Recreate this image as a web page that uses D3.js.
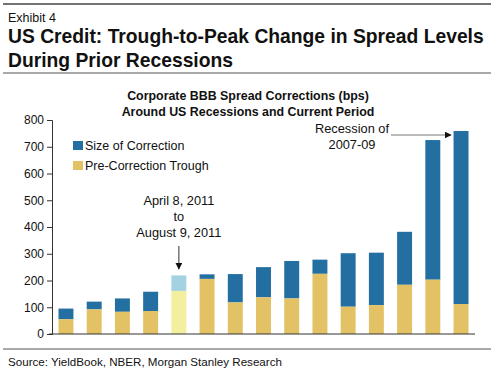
<!DOCTYPE html>
<html>
<head>
<meta charset="utf-8">
<script src="https://cdn.jsdelivr.net/npm/d3@7"></script>
<style>
  body { margin: 0; background: #fff; }
  svg { font-family: "Liberation Sans", Arial, sans-serif; }
</style>
</head>
<body>
<svg id="chart" width="496" height="373"></svg>
<script>
// bar order as in the exhibit, left to right
var periods = ["r1", "r2", "r3", "r4", "2011", "r6", "r7", "r8", "r9", "r10", "r11", "r12", "r13", "r14", "r15"];
var troughValues = [55, 92, 83, 86, 161, 206, 118, 137, 133, 225, 102, 108, 184, 203, 112];
var peakValues = [95, 121, 133, 158, 219, 223, 224, 250, 273, 278, 302, 304, 382, 725, 759];
var yTicks = [0, 100, 200, 300, 400, 500, 600, 700, 800];
var highlight = "2011";

var svg = d3.select("#chart");

// rules
svg.append("line").attr("x1", 3).attr("x2", 491).attr("y1", 4).attr("y2", 4)
   .attr("stroke", "#444").attr("stroke-width", 1.5);
svg.append("line").attr("x1", 3).attr("x2", 491).attr("y1", 73).attr("y2", 73)
   .attr("stroke", "#555").attr("stroke-width", 1.2);
svg.append("line").attr("x1", 3).attr("x2", 491).attr("y1", 349).attr("y2", 349)
   .attr("stroke", "#555").attr("stroke-width", 1);

// headings
svg.append("text").attr("x", 8).attr("y", 21.5).attr("font-size", 12.5).attr("fill", "#111").text("Exhibit 4");
svg.append("text").attr("x", 8).attr("y", 42.5).attr("font-size", 19.3).attr("font-weight", "bold")
   .attr("fill", "#111").text("US Credit: Trough-to-Peak Change in Spread Levels");
svg.append("text").attr("x", 8).attr("y", 66.5).attr("font-size", 19.3).attr("font-weight", "bold")
   .attr("fill", "#111").text("During Prior Recessions");

svg.append("text").attr("x", 248).attr("y", 100).attr("text-anchor", "middle").attr("font-size", 12.4)
   .attr("font-weight", "bold").attr("fill", "#111").text("Corporate BBB Spread Corrections (bps)");
svg.append("text").attr("x", 248).attr("y", 115.5).attr("text-anchor", "middle").attr("font-size", 12.4)
   .attr("font-weight", "bold").attr("fill", "#111").text("Around US Recessions and Current Period");

svg.append("text").attr("x", 8).attr("y", 366).attr("font-size", 11.6).attr("fill", "#111")
   .text("Source: YieldBook, NBER, Morgan Stanley Research");

// scales
var x = d3.scaleBand().domain(periods).range([52, 475]).paddingInner(0.47).paddingOuter(0.23);
var y = d3.scaleLinear().domain([0, 800]).range([334, 120]);

var yAxis = d3.axisLeft(y).tickValues(yTicks).tickSize(5).tickPadding(3);
var gy = svg.append("g").attr("transform", "translate(52,0)").call(yAxis);
gy.select(".domain").attr("stroke", "#333");
gy.selectAll(".tick line").attr("stroke", "#333");
gy.selectAll(".tick text").attr("font-size", 12).attr("fill", "#111")
  .attr("font-family", "Liberation Sans, Arial, sans-serif");

// bars
var bars = svg.append("g");
periods.forEach(function(p, i) {
  var isHi = p == highlight;
  bars.append("rect")
      .attr("x", x(p)).attr("width", x.bandwidth())
      .attr("y", y(peakValues[i])).attr("height", y(troughValues[i]) - y(peakValues[i]))
      .attr("fill", isHi ? "#a3d3e2" : "#246fa1");
  bars.append("rect")
      .attr("x", x(p)).attr("width", x.bandwidth())
      .attr("y", y(troughValues[i])).attr("height", y(0) - y(troughValues[i]))
      .attr("fill", isHi ? "#f2ef9f" : "#e3c266");
});

// x baseline
svg.append("line").attr("x1", 49).attr("x2", 475).attr("y1", y(0)).attr("y2", y(0))
   .attr("stroke", "#333").attr("stroke-width", 1);

// legend
var legend = [["Size of Correction", "#246fa1"], ["Pre-Correction Trough", "#e3c266"]];
legend.forEach(function(d, i) {
  svg.append("rect").attr("x", 73).attr("y", 141 + i * 20).attr("width", 10).attr("height", 9).attr("fill", d[1]);
  svg.append("text").attr("x", 85).attr("y", 150 + i * 20).attr("font-size", 12.5).attr("fill", "#111").text(d[0]);
});

// arrowheads
var defs = svg.append("defs");
defs.append("marker").attr("id", "head").attr("viewBox", "0 0 10 10").attr("refX", 9).attr("refY", 5)
    .attr("markerWidth", 7).attr("markerHeight", 7).attr("markerUnits", "userSpaceOnUse").attr("orient", "auto")
  .append("path").attr("d", "M0,0L10,5L0,10Z").attr("fill", "#111");

// 2011 annotation
var hx = x(highlight) + x.bandwidth() / 2;
["April 8, 2011", "to", "August 9, 2011"].forEach(function(t, i) {
  svg.append("text").attr("x", hx).attr("y", 205 + i * 16).attr("text-anchor", "middle")
     .attr("font-size", 12.8).attr("fill", "#111").text(t);
});
svg.append("line").attr("x1", hx).attr("x2", hx).attr("y1", 246).attr("y2", 269)
   .attr("stroke", "#555").attr("stroke-width", 1.2).attr("marker-end", "url(#head)");

// 2007-09 annotation
svg.append("text").attr("x", 352).attr("y", 133).attr("text-anchor", "middle")
   .attr("font-size", 12.8).attr("fill", "#111").text("Recession of");
svg.append("text").attr("x", 352).attr("y", 149).attr("text-anchor", "middle")
   .attr("font-size", 12.8).attr("fill", "#111").text("2007-09");
svg.append("line").attr("x1", 391).attr("x2", 451).attr("y1", 135).attr("y2", 135)
   .attr("stroke", "#777").attr("stroke-width", 1.2).attr("marker-end", "url(#head)");
</script>
</body>
</html>
